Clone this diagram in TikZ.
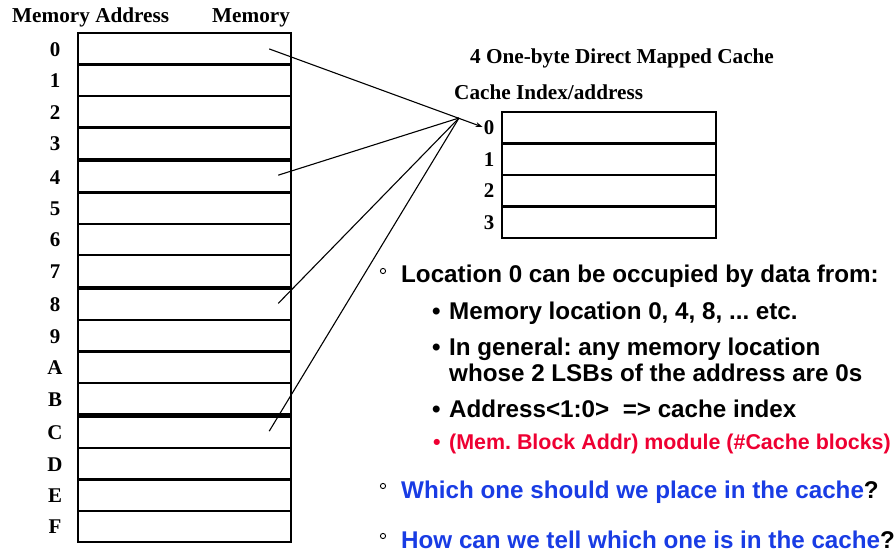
\documentclass[tikz,border=0pt]{standalone}
\usepackage{fontspec}
\setmainfont{Liberation Serif}
\newfontfamily\arialfont{Liberation Sans}
\usetikzlibrary{arrows.meta,calc}
\definecolor{qblue}{RGB}{25,60,228}
\definecolor{hotred}{RGB}{238,0,50}
\frenchspacing

\tikzset{
  memcell/.style={draw, line width=2.4bp, minimum width=213bp, minimum height=31.44bp,
                  inner sep=0pt, anchor=north west},
  cachecell/.style={draw, line width=2.2bp, minimum width=214bp, minimum height=31.5bp,
                  inner sep=0pt, anchor=north west},
  addr/.style={font=\bfseries\fontsize{21}{24}\selectfont, inner sep=0pt, anchor=center},
  head/.style={font=\bfseries\fontsize{21.3}{24}\selectfont, inner sep=0pt, anchor=base west},
  conn/.style={line width=1.1bp},
  body/.style={font=\arialfont\bfseries\fontsize{24.3}{28}\selectfont, inner sep=0pt, anchor=base west},
  small/.style={font=\arialfont\bfseries\fontsize{21.5}{25}\selectfont, inner sep=0pt, anchor=base west},
  ring/.style={line width=0.9bp}
}

\begin{document}
\begin{tikzpicture}[x=1bp, y=-1bp]
\useasboundingbox (0,0) rectangle (896,556);

% column headings
\node[head] (hAddr) at (12,23) {Memory Address};
\node[head] (hMem) at (212,23) {Memory};

% sixteen memory locations, in four groups of four
\foreach \i/\lab in {0/0,1/1,2/2,3/3,4/4,5/5,6/6,7/7,8/8,9/9,10/A,11/B,12/C,13/D,14/E,15/F}{
  \pgfmathsetmacro\ytop{32+\i*31.44+2*floor(\i/4)}
  \node[memcell] (m\lab) at (77,\ytop) {};
  \node[addr] (a\lab) at (55,\ytop+17.5) {\lab};
}

% cache
\node[head] (hCache) at (470,64) {4 One-byte Direct Mapped Cache};
\node[head] (hIdx) at (454,100) {Cache Index/address};
\foreach \i in {0,1,2,3}{
  \node[cachecell] (c\i) at (501,111+\i*31.5) {};
  \node[addr] (ci\i) at (489,111+\i*31.5+17) {\i};
}

% mapping of locations 0, 4, 8, C onto cache entry 0
\coordinate (hub) at (459,118);
\coordinate (p0) at ($(m0.center)+(84.5,0)$);
\coordinate (p4) at ($(m4.center)+(93.5,-1.5)$);
\coordinate (p8) at ($(m8.center)+(93.5,-1)$);
\coordinate (pC) at ($(mC.center)+(84.5,-1)$);
\draw[conn, -{Stealth[length=7bp,width=5bp]}] (p0) -- ($(ci0.west)+(-1,-1)$);
\draw[conn] (hub) -- (p4);
\draw[conn] (hub) -- (p8);
\draw[conn] (hub) -- (pC);

% notes
\draw[ring] (383,271) circle (2.6);
\node[body] (t1) at (401,283) {Location 0 can be occupied by data from:};

\node[body] (b1) at (432,320) {•};
\node[body] (t2) at (449,320) {Memory location 0, 4, 8, ... etc.};
\node[body] (b2) at (432,356) {•};
\node[body] (t3) at (449,356) {In general: any memory location};
\node[body] (t3b) at (449,381) {whose 2 LSBs of the address are 0s};
\node[body] (b3) at (432,417) {•};
\node[body] (t4) at (449,417) {Address<1:0>\ \ => cache index};
\node[small, text=hotred] (b4) at (433,449) {•};
\node[small, text=hotred] (t5) at (449,449) {(Mem. Block Addr) module (\#Cache blocks)};

\draw[ring] (383,486) circle (2.6);
\node[body] (t6) at (401,498) {\textcolor{qblue}{Which one should we place in the cache}?};
\draw[ring] (383,536) circle (2.6);
\node[body] (t7) at (401,548) {\textcolor{qblue}{How can we tell which one is in the cache}?};
\end{tikzpicture}
\end{document}
